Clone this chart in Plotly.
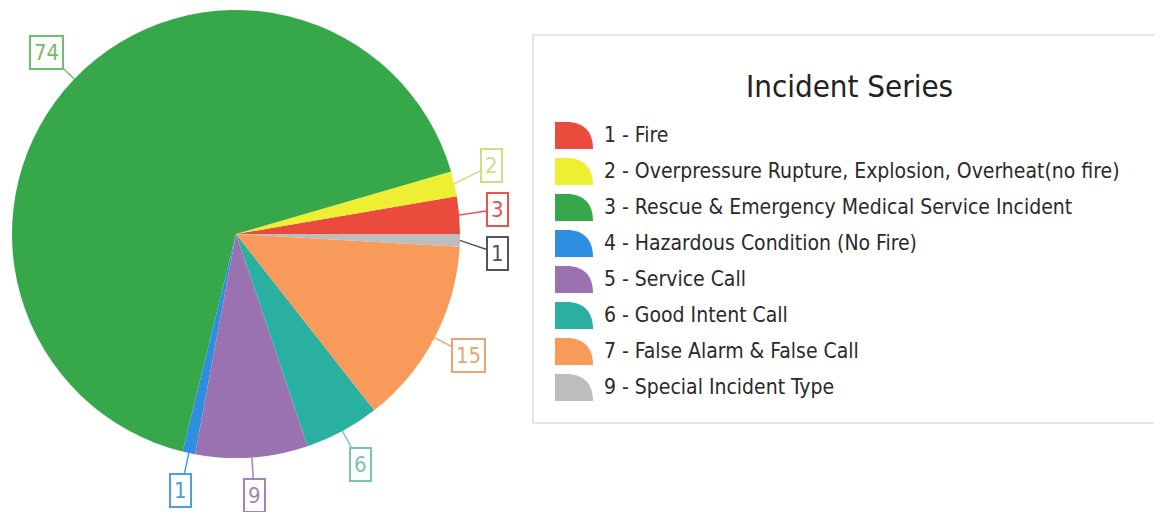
import math
import plotly.graph_objects as go

categories = [
    "1 - Fire",
    "2 - Overpressure Rupture, Explosion, Overheat(no fire)",
    "3 - Rescue & Emergency Medical Service Incident",
    "4 - Hazardous Condition (No Fire)",
    "5 - Service Call",
    "6 - Good Intent Call",
    "7 - False Alarm & False Call",
    "9 - Special Incident Type",
]
values = [3, 2, 74, 1, 9, 6, 15, 1]
slice_colors = ["#EA4B3C", "#EEEE33", "#36A84A", "#2E8FE0", "#9B72B0", "#2AB0A0", "#F79A5A", "#BDBDBD"]
label_colors = ["#EE5050", "#D4DA88", "#6DBF6D", "#4BA0E0", "#A87FC0", "#7CC4B0", "#E8A474", "#555555"]
legend_title = "Incident Series"

# page has an 8px body margin, so the figure is drawn 8px in from the window corner
OFF = 8
W, H = 1162 - OFF, 512 - OFF
CX, CY, R = 236 - OFF, 234 - OFF, 224   # pie centre / radius in figure pixels
LABEL_DIST = 262
FONT = "DejaVu Sans Condensed, DejaVu Sans, sans-serif"


def px(x, y):
    """reference window pixel -> paper coords"""
    return (x - OFF) / W, 1 - (y - OFF) / H


total = sum(values)
# plotly: for counterclockwise pies `rotation` is the boundary after the first slice
rotation = 90 - 360 * values[0] / total

fig = go.Figure(
    go.Pie(
        labels=categories,
        values=values,
        sort=False,
        direction="counterclockwise",
        rotation=rotation,
        marker=dict(colors=slice_colors, line=dict(width=0)),
        textinfo="none",
        hoverinfo="label+value",
        showlegend=False,
        domain=dict(x=[(CX - R) / W, (CX + R) / W], y=[1 - (CY + R) / H, 1 - (CY - R) / H]),
    )
)

# value labels with leader lines, positioned from the data
cum = 0
labels = []
for v, col in zip(values, label_colors):
    mid = (cum + v / 2) / total * 2 * math.pi
    cum += v
    ex, ey = CX + R * math.cos(mid), CY - R * math.sin(mid)
    lx, ly = CX + LABEL_DIST * math.cos(mid), CY - LABEL_DIST * math.sin(mid)
    labels.append(dict(v=v, col=col, ex=ex, ey=ey, lx=lx, ly=ly, right=math.cos(mid) > 0))

# simple vertical collision avoidance per side
for side in (True, False):
    grp = sorted([l for l in labels if l["right"] == side], key=lambda l: l["ly"])
    for _ in range(50):
        moved = False
        for a, b in zip(grp, grp[1:]):
            gap = b["ly"] - a["ly"]
            if gap < 44 and abs(a["lx"] - b["lx"]) < 40:
                d = (44 - gap) / 2
                a["ly"] -= d
                b["ly"] += d
                moved = True
        if not moved:
            break

for l in labels:
    x, y = l["ex"] / W, 1 - l["ey"] / H
    fig.add_annotation(
        x=x, y=y, xref="paper", yref="paper",
        text=str(l["v"]),
        showarrow=True, arrowhead=0, arrowwidth=1.5, arrowcolor=l["col"],
        ax=l["lx"] - l["ex"], ay=l["ly"] - l["ey"],
        font=dict(family=FONT, size=22, color=l["col"]),
        bordercolor=l["col"], borderwidth=2, borderpad=3, bgcolor="white",
    )

# legend panel
shapes = []
x0, y0 = px(533, 35)
x1, y1 = px(1158, 423)
shapes.append(dict(type="rect", xref="paper", yref="paper", x0=x0, y0=y1, x1=x1, y1=y0,
                   line=dict(color="#DDDDDD", width=1.5), fillcolor="white", layer="below"))
tx, ty = px(849, 86)
fig.add_annotation(x=tx, y=ty, xref="paper", yref="paper", text=legend_title, showarrow=False,
                   font=dict(family=FONT, size=31, color="#222222"), xanchor="center", yanchor="middle")


def P(p):
    a, b = px(*p)
    return f"{a:.5f},{b:.5f}"


ROW0, ROW_STEP = 135, 36
for i, (name, col) in enumerate(zip(categories, slice_colors)):
    cy = ROW0 + i * ROW_STEP
    ix0, ix1 = 555, 593
    iyt, iyb = cy - 13, cy + 14
    path = (f"M {P((ix0, iyb))} L {P((ix0, iyt))} L {P((ix0 + 12, iyt))} "
            f"C {P((ix0 + 28, iyt))} {P((ix1, iyt + 9))} {P((ix1, iyb))} Z")
    shapes.append(dict(type="path", xref="paper", yref="paper", path=path,
                       fillcolor=col, line=dict(width=0)))
    ax_, ay_ = px(602, cy)
    fig.add_annotation(x=ax_, y=ay_, xref="paper", yref="paper", text=name, showarrow=False,
                       font=dict(family=FONT, size=21, color="#2A2A2A"), xanchor="left", yanchor="middle")

fig.update_layout(
    width=W, height=H,
    margin=dict(l=0, r=0, t=0, b=0),
    paper_bgcolor="white", plot_bgcolor="white",
    shapes=shapes,
    showlegend=False,
)

fig.write_html("out.html")
